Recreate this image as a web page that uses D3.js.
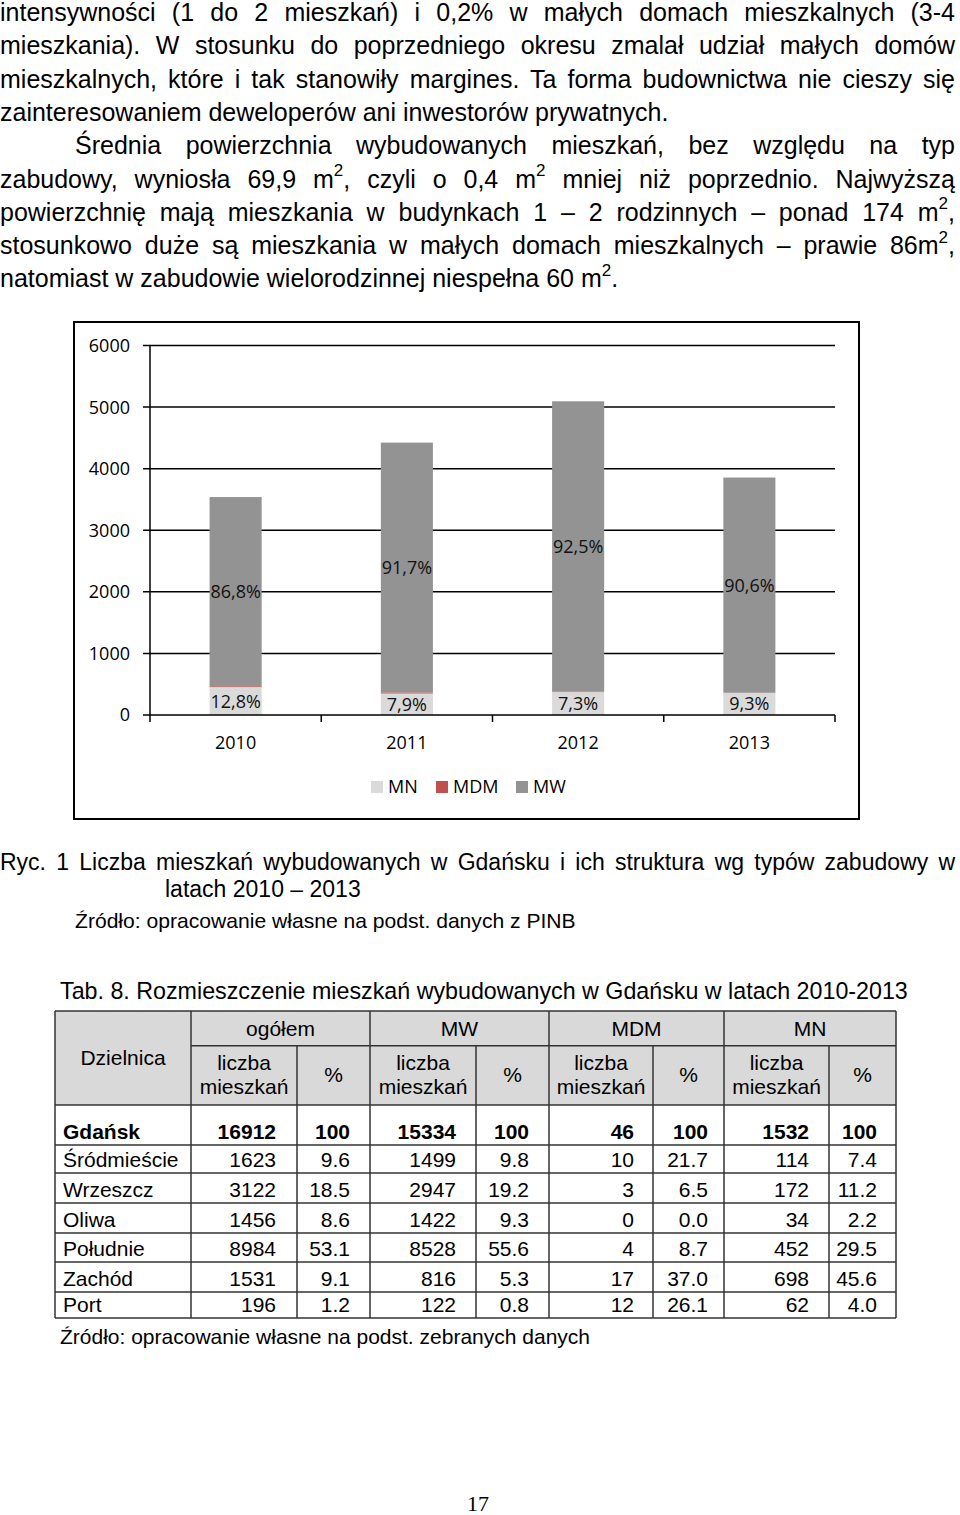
<!DOCTYPE html>
<html>
<head>
<meta charset="utf-8">
<script src="https://cdn.jsdelivr.net/npm/d3@7"></script>
<style>
  html, body { margin: 0; padding: 0; background: #fff; }
  svg { display: block; }
  text { white-space: pre; }
</style>
</head>
<body>
<svg id="page" width="960" height="1515"></svg>
<script>
// ---------------- DATA ----------------
const years = ["2010", "2011", "2012", "2013"];
const seriesKeys = ["MN", "MDM", "MW"];
const mnValues = [453, 349, 372, 358];
const mdmValues = [14, 18, 10, 4];
const mwValues = [3072, 4056, 4712, 3494];
const mwLabels = ["86,8%", "91,7%", "92,5%", "90,6%"];
const mnLabels = ["12,8%", "7,9%", "7,3%", "9,3%"];
const yTicks = [0, 1000, 2000, 3000, 4000, 5000, 6000];

const districts = ["Gdańsk", "Śródmieście", "Wrzeszcz", "Oliwa", "Południe", "Zachód", "Port"];
const totalCount = ["16912", "1623", "3122", "1456", "8984", "1531", "196"];
const totalPct = ["100", "9.6", "18.5", "8.6", "53.1", "9.1", "1.2"];
const mwCount = ["15334", "1499", "2947", "1422", "8528", "816", "122"];
const mwPct = ["100", "9.8", "19.2", "9.3", "55.6", "5.3", "0.8"];
const mdmCount = ["46", "10", "3", "0", "4", "17", "12"];
const mdmPct = ["100", "21.7", "6.5", "0.0", "8.7", "37.0", "26.1"];
const mnCount = ["1532", "114", "172", "34", "452", "698", "62"];
const mnPct = ["100", "7.4", "11.2", "2.2", "29.5", "45.6", "4.0"];
const tableGroups = ["ogółem", "MW", "MDM", "MN"];

// Text lines (segments; objects = superscripts)
const para1 = [
  ["intensywności (1 do 2 mieszkań) i 0,2% w małych domach mieszkalnych (3-4"],
  ["mieszkania). W stosunku do poprzedniego okresu zmalał udział małych domów"],
  ["mieszkalnych, które i tak stanowiły margines. Ta forma budownictwa nie cieszy się"],
  ["zainteresowaniem deweloperów ani inwestorów prywatnych."],
  ["Średnia powierzchnia wybudowanych mieszkań, bez względu na typ"],
  ["zabudowy, wyniosła 69,9 m", {sup: "2"}, ", czyli o 0,4 m", {sup: "2"}, " mniej niż poprzednio. Najwyższą"],
  ["powierzchnię mają mieszkania w budynkach 1 – 2 rodzinnych – ponad 174 m", {sup: "2"}, ","],
  ["stosunkowo duże są mieszkania w małych domach mieszkalnych – prawie 86m", {sup: "2"}, ","],
  ["natomiast w zabudowie wielorodzinnej niespełna 60 m", {sup: "2"}, "."]
];
const para1Justify = [true, true, true, false, true, true, true, true, false];
const para1Indent = [0, 0, 0, 0, 75, 0, 0, 0, 0];

// ---------------- DRAW ----------------
const svg = d3.select("#page");
const sans = "'Liberation Sans', Arial, sans-serif";
const chartFont = "'Open Sans', 'Noto Sans', sans-serif";

function textLine(x, y, segs, size, justifyTo, opts = {}) {
  const t = svg.append("text")
    .attr("x", x).attr("y", y)
    .attr("font-family", opts.family || sans)
    .attr("font-size", size)
    .attr("font-weight", opts.weight || "normal")
    .attr("fill", "#000");
  let shifted = false;
  const rise = size * 0.46;
  segs.forEach(s => {
    if (typeof s === "string") {
      const ts = t.append("tspan").text(s);
      if (shifted) { ts.attr("dy", rise); shifted = false; }
    } else {
      t.append("tspan").attr("dy", -rise).attr("font-size", size * 0.68).text(s.sup);
      shifted = true;
    }
  });
  if (justifyTo) {
    const w = t.node().getComputedTextLength();
    const full = segs.map(s => typeof s === "string" ? s : s.sup).join("");
    const n = (full.match(/ /g) || []).length;
    if (n > 0) t.style("word-spacing", ((justifyTo - x - w) / n) + "px");
  }
  return t;
}

// Paragraph
para1.forEach((segs, i) => {
  textLine(para1Indent[i], 21 + i * 33.3, segs, 25, para1Justify[i] ? 955 : null);
});

// ---------------- CHART ----------------
svg.append("rect").attr("x", 74).attr("y", 322).attr("width", 785).attr("height", 497)
  .attr("fill", "#fff").attr("stroke", "#000").attr("stroke-width", 2);

const x = d3.scaleBand().domain(years).range([150, 835]).paddingInner(0.696).paddingOuter(0.348);
const y = d3.scaleLinear().domain([0, 6000]).range([715, 345.5]);
const color = d3.scaleOrdinal().domain(seriesKeys).range(["#dadada", "#c0504d", "#939393"]);

const rows = years.map((yr, i) => ({year: yr, MN: mnValues[i], MDM: mdmValues[i], MW: mwValues[i]}));
const stacked = d3.stack().keys(seriesKeys)(rows);

// gridlines
svg.append("g").selectAll("line").data(yTicks.filter(d => d > 0)).join("line")
  .attr("x1", 143).attr("x2", 835)
  .attr("y1", d => y(d)).attr("y2", d => y(d))
  .attr("stroke", "#000").attr("stroke-width", 1.5);

// bars
svg.append("g").selectAll("g").data(stacked).join("g")
  .attr("fill", d => color(d.key))
  .selectAll("rect").data(d => d).join("rect")
  .attr("x", d => x(d.data.year))
  .attr("width", x.bandwidth())
  .attr("y", d => y(d[1]))
  .attr("height", d => y(d[0]) - y(d[1]));

// y axis line + labels
svg.append("line").attr("x1", 150).attr("x2", 150).attr("y1", y(6000)).attr("y2", y(0))
  .attr("stroke", "#000").attr("stroke-width", 1.5);
svg.append("g").selectAll("text").data(yTicks).join("text")
  .attr("x", 130).attr("y", d => y(d)).attr("dy", "0.36em")
  .attr("text-anchor", "end").attr("font-family", chartFont).attr("font-size", 18).attr("fill", "#000")
  .text(d => d);

// x axis baseline + ticks
svg.append("line").attr("x1", 143).attr("x2", 835).attr("y1", y(0)).attr("y2", y(0))
  .attr("stroke", "#000").attr("stroke-width", 1.5);
const boundaries = years.map(yr => x(yr) - x.step() * x.paddingInner() / 2 - 0).concat([835]);
svg.append("g").selectAll("line").data(boundaries).join("line")
  .attr("x1", d => d).attr("x2", d => d).attr("y1", y(0)).attr("y2", y(0) + 7)
  .attr("stroke", "#000").attr("stroke-width", 1.5);
svg.append("g").selectAll("text").data(years).join("text")
  .attr("x", d => x(d) + x.bandwidth() / 2).attr("y", 748.5)
  .attr("text-anchor", "middle").attr("font-family", chartFont).attr("font-size", 18).attr("fill", "#000")
  .text(d => d);

// bar labels
const mwSeries = stacked.find(s => s.key === "MW");
const mnSeries = stacked.find(s => s.key === "MN");
svg.append("g").selectAll("text").data(mwSeries).join("text")
  .attr("x", d => x(d.data.year) + x.bandwidth() / 2)
  .attr("y", d => y((d[0] + d[1]) / 2)).attr("dy", "0.36em")
  .attr("text-anchor", "middle").attr("font-family", chartFont).attr("font-size", 18).attr("fill", "#111")
  .text((d, i) => mwLabels[i]);
svg.append("g").selectAll("text").data(mnSeries).join("text")
  .attr("x", d => x(d.data.year) + x.bandwidth() / 2)
  .attr("y", d => y((d[0] + d[1]) / 2)).attr("dy", "0.36em")
  .attr("text-anchor", "middle").attr("font-family", chartFont).attr("font-size", 18).attr("fill", "#111")
  .text((d, i) => mnLabels[i]);

// legend
const legendX = [371, 436, 516];
const lg = svg.append("g").selectAll("g").data(seriesKeys).join("g")
  .attr("transform", (d, i) => `translate(${legendX[i]},781)`);
lg.append("rect").attr("width", 12).attr("height", 12).attr("fill", d => color(d));
lg.append("text").attr("x", 17).attr("y", 6).attr("dy", "0.36em")
  .attr("font-family", chartFont).attr("font-size", 18).attr("fill", "#000").text(d => d);

// ---------------- CAPTIONS ----------------
textLine(0, 870, ["Ryc. 1 Liczba mieszkań wybudowanych w Gdańsku i ich struktura wg typów zabudowy w"], 23, 955);
textLine(165, 897, ["latach 2010 – 2013"], 23, null);
textLine(75, 928, ["Źródło: opracowanie własne na podst. danych z PINB"], 21.1, null);
textLine(60, 999, ["Tab. 8. Rozmieszczenie mieszkań wybudowanych w Gdańsku w latach 2010-2013"], 23.25, null);

// ---------------- TABLE ----------------
const colX = [55, 191, 297, 370, 476, 549, 653, 724, 829, 896];
const rowY = [1011, 1045.7, 1105, 1145, 1173, 1203, 1233, 1262, 1292, 1318];
const tableFont = 21;
const tg = svg.append("g");
tg.append("rect").attr("x", colX[0]).attr("y", rowY[0]).attr("width", colX[9] - colX[0])
  .attr("height", rowY[2] - rowY[0]).attr("fill", "#d9d9d9");

// header texts
tg.append("text").attr("x", (colX[0] + colX[1]) / 2).attr("y", 1065).attr("text-anchor", "middle")
  .attr("font-family", sans).attr("font-size", tableFont).text("Dzielnica");
tg.selectAll("text.grp").data(tableGroups).join("text").attr("class", "grp")
  .attr("x", (d, i) => (colX[1 + 2 * i] + colX[3 + 2 * i]) / 2).attr("y", 1035.5)
  .attr("text-anchor", "middle").attr("font-family", sans).attr("font-size", tableFont).text(d => d);
tableGroups.forEach((g, i) => {
  const cx = (colX[1 + 2 * i] + colX[2 + 2 * i]) / 2;
  tg.append("text").attr("x", cx).attr("y", 1070).attr("text-anchor", "middle")
    .attr("font-family", sans).attr("font-size", tableFont).text("liczba");
  tg.append("text").attr("x", cx).attr("y", 1094).attr("text-anchor", "middle")
    .attr("font-family", sans).attr("font-size", tableFont).text("mieszkań");
  tg.append("text").attr("x", (colX[2 + 2 * i] + colX[3 + 2 * i]) / 2).attr("y", 1082).attr("text-anchor", "middle")
    .attr("font-family", sans).attr("font-size", tableFont).text("%");
});

// body
const columns = [totalCount, totalPct, mwCount, mwPct, mdmCount, mdmPct, mnCount, mnPct];
const rightPad = [21, 20, 20, 20, 19, 16, 20, 19];
districts.forEach((name, r) => {
  const base = rowY[r + 3] - 6;
  const weight = r === 0 ? "bold" : "normal";
  tg.append("text").attr("x", 63).attr("y", base).attr("font-family", sans)
    .attr("font-size", tableFont).attr("font-weight", weight).text(name);
  columns.forEach((col, c) => {
    tg.append("text").attr("x", colX[c + 2] - rightPad[c]).attr("y", base).attr("text-anchor", "end")
      .attr("font-family", sans).attr("font-size", tableFont).attr("font-weight", weight).text(col[r]);
  });
});

// grid lines
const lineColor = "#333";
rowY.forEach((yy, i) => {
  tg.append("line").attr("x1", i === 1 ? colX[1] : colX[0]).attr("x2", colX[9])
    .attr("y1", yy).attr("y2", yy).attr("stroke", lineColor).attr("stroke-width", 1.5);
});
colX.forEach((xx, i) => {
  const isSub = (i % 2 === 0) && i > 0 && i < 9;
  tg.append("line").attr("x1", xx).attr("x2", xx)
    .attr("y1", isSub ? rowY[1] : rowY[0]).attr("y2", rowY[9])
    .attr("stroke", lineColor).attr("stroke-width", 1.5);
});

textLine(60, 1344, ["Źródło: opracowanie własne na podst. zebranych danych"], 21, null);

// page number
svg.append("text").attr("x", 478).attr("y", 1511).attr("text-anchor", "middle")
  .attr("font-family", "'Liberation Serif', 'Times New Roman', serif").attr("font-size", 22).text("17");
</script>
</body>
</html>
